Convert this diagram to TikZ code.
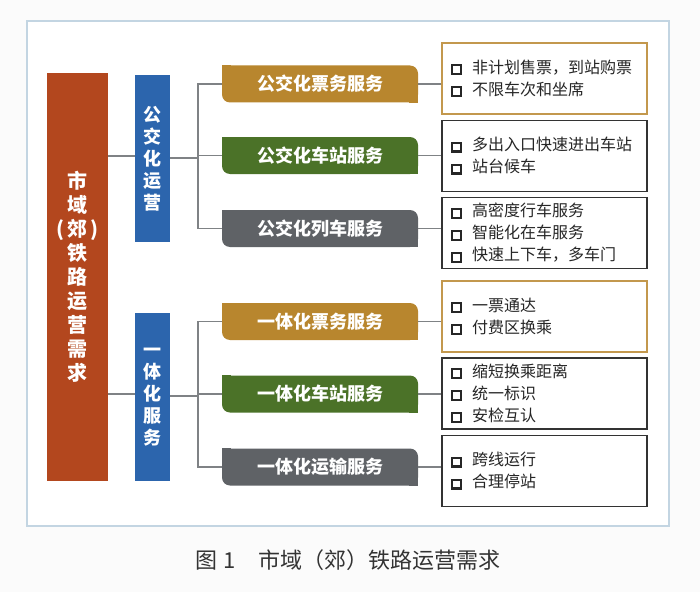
\documentclass[tikz,border=0pt]{standalone}
\usepackage{fontspec}
\setmainfont{Noto Sans CJK SC}
\usepackage{xcolor}
\usetikzlibrary{positioning, calc}

\definecolor{demandRed}{HTML}{B3471E}
\definecolor{opsBlue}{HTML}{2C65AD}
\definecolor{ticketGold}{HTML}{B8862E}
\definecolor{stationGreen}{HTML}{4B7228}
\definecolor{trainGray}{HTML}{5F6266}
\definecolor{frameLine}{HTML}{C3D5E2}
\definecolor{linkGray}{HTML}{7F8285}

\newcommand{\sqbullet}{{\setlength{\fboxsep}{0pt}\setlength{\fboxrule}{1.6pt}\raisebox{0.3pt}{\fbox{\rule{0pt}{5pt}\hspace{5pt}}}}\hspace{7.5pt}}

\begin{document}
\begin{tikzpicture}[
		x=0.75pt, y=-0.75pt,
		demandBox/.style={rectangle, fill=demandRed, text=white, minimum width=45.75pt, minimum height=306pt, align=center, font=\fontsize{15}{18}\selectfont\bfseries},
		groupBox/.style={rectangle, fill=opsBlue, text=white, minimum width=26.25pt, minimum height=125.5pt, align=center, font=\fontsize{13.5}{16.5}\selectfont\bfseries},
		svcBox/.style={rectangle, rounded corners=6pt, text=white, minimum width=147pt, minimum height=27.75pt, font=\fontsize{13.5}{16}\selectfont\bfseries},
		itemBox/.style={rectangle, draw=black!80, line width=0.9pt, fill=white, minimum width=153.75pt, minimum height=53.25pt, text width=140pt, align=left, font=\fontsize{12}{16.5}\selectfont, text=black!85},
		link/.style={draw=linkGray, line width=0.9pt}
		]

		% Hintergrund und Rahmen
		\fill[white!97!gray] (0,0) rectangle (700,592);
		\useasboundingbox (0,0) rectangle (700,592);
		\draw[frameLine, fill=white, line width=0.8pt] (27,21) rectangle (669,526);

		% Knoten links
		\node[demandBox] (demand) at (77.5,277) {市\\域\\(\,郊\,)\\铁\\路\\运\\营\\需\\求};
		\node[groupBox] (ops) at (152.5,158.5) {公\\交\\化\\运\\营};
		\node[groupBox, minimum height=126pt] (integ) at (152.5,397) {一\\体\\化\\服\\务};

		% Dienste
		\node[svcBox, fill=ticketGold] (svcA) at (320,84) {公交化票务服务};
		\node[svcBox, fill=stationGreen] (svcB) at (320,155.5) {公交化车站服务};
		\node[svcBox, fill=trainGray] (svcC) at (320,228.5) {公交化列车服务};
		\node[svcBox, fill=ticketGold] (svcD) at (320,321.5) {一体化票务服务};
		\node[svcBox, fill=stationGreen] (svcE) at (320,394) {一体化车站服务};
		\node[svcBox, fill=trainGray] (svcF) at (320,467) {一体化运输服务};

		\foreach \n/\c in {svcA/ticketGold, svcB/stationGreen, svcC/trainGray, svcD/ticketGold, svcE/stationGreen, svcF/trainGray}{
			\fill[\c] (\n.north west) rectangle ([xshift=7pt,yshift=-7pt]\n.north west);
			\fill[\c] (\n.south east) rectangle ([xshift=-7pt,yshift=7pt]\n.south east);
		}

		% Inhalte
		\node[itemBox, draw=ticketGold!85] (itemA) at (544.5,78.5) {\sqbullet 非计划售票，到站购票\\\sqbullet 不限车次和坐席};
		\node[itemBox] (itemB) at (544.5,156) {\sqbullet 多出入口快速进出车站\\\sqbullet 站台候车};
		\node[itemBox] (itemC) at (544.5,233) {\sqbullet 高密度行车服务\\\sqbullet 智能化在车服务\\\sqbullet 快速上下车，多车门};
		\node[itemBox, draw=ticketGold!85] (itemD) at (544.5,316.5) {\sqbullet 一票通达\\\sqbullet 付费区换乘};
		\node[itemBox] (itemE) at (544.5,393.5) {\sqbullet 缩短换乘距离\\\sqbullet 统一标识\\\sqbullet 安检互认};
		\node[itemBox] (itemF) at (544.5,471) {\sqbullet 跨线运行\\\sqbullet 合理停站};

		% Verbindungen
		\coordinate (trunkA) at (198,158);
		\coordinate (trunkB) at (198,396);
		\draw[link] (demand.east |- 0,156) -- (ops.west |- 0,156);
		\draw[link] (demand.east |- 0,394) -- (integ.west |- 0,394);
		\draw[link] (ops.east |- trunkA) -- (trunkA);
		\draw[link] (integ.east |- trunkB) -- (trunkB);
		\draw[link] (svcA.west) -| (trunkA |- svcC) -- (svcC.west);
		\draw[link] (trunkA |- svcB) -- (svcB.west);
		\draw[link] (svcD.west) -| (trunkB |- svcF) -- (svcF.west);
		\draw[link] (trunkB |- svcE) -- (svcE.west);
		\foreach \s/\t in {svcA/itemA, svcB/itemB, svcC/itemC, svcD/itemD, svcE/itemE, svcF/itemF}
			\draw[link] (\s.east) -- (\s.east -| \t.west);

		% Titel
		\node[font=\fontsize{16.5}{19}\selectfont, text=black!80] (caption) at (348,560) {图\;1\quad 市域（郊）铁路运营需求};

	\end{tikzpicture}
\end{document}
